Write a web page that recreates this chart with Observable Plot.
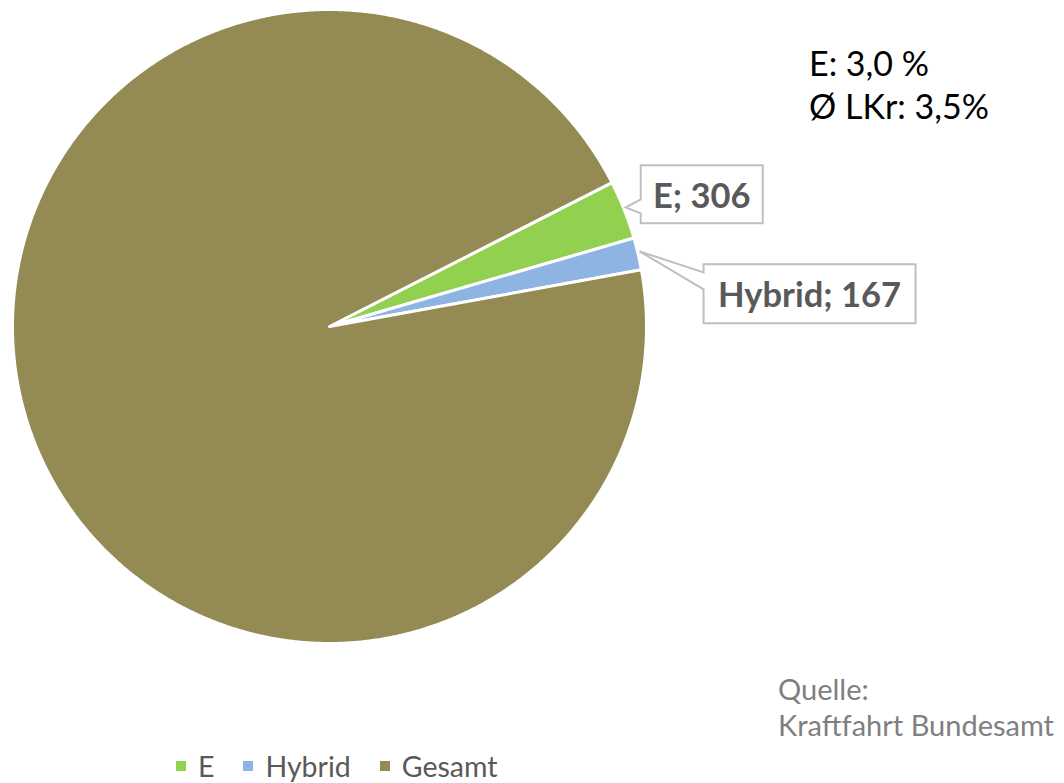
<!DOCTYPE html>
<html>
<head>
<meta charset="utf-8">
<script src="https://cdn.jsdelivr.net/npm/d3@7"></script>
<script src="https://cdn.jsdelivr.net/npm/@observablehq/plot@0.6"></script>
<style>
  html, body { margin: 0; padding: 0; background: #ffffff; }
  #wrap { position: relative; width: 1064px; height: 783px; overflow: hidden; font-family: Lato, "Open Sans", sans-serif; }
  #wrap svg { position: absolute; left: 0; top: 0; }
  .note { position: absolute; left: 809px; color: #000; font-size: 34px; line-height: 1; white-space: nowrap; }
  .src { position: absolute; left: 778px; color: #7f7f7f; font-size: 29px; line-height: 1; white-space: nowrap; }
  #legend { position: absolute; top: 752px; left: 176px; display: flex; align-items: center; font-size: 28.5px; color: #595959; line-height: 1; white-space: nowrap; }
  #legend .item { display: flex; align-items: center; margin-right: 29px; }
  #legend .sw { width: 10px; height: 10px; margin-right: 12px; }
</style>
</head>
<body>
<div id="wrap"></div>
<script>
// ---- data ----
const categories = ["E", "Hybrid", "Gesamt"];
const values = [306, 167, 9727];
const colors = ["#92D050", "#8DB4E2", "#948A54"];
const labelTexts = ["E; 306", "Hybrid; 167"];
const noteLines = ["E: 3,0 %", "Ø LKr: 3,5%"];
const sourceLines = ["Quelle:", "Kraftfahrt Bundesamt"];
const firstSliceAngleDeg = 63;

// ---- pie geometry (unit circle, y up) ----
const rows = categories.map((name, i) => ({name, value: values[i]}));
const a0 = firstSliceAngleDeg * Math.PI / 180;
const arcs = d3.pie().sort(null).value(d => d.value).startAngle(a0).endAngle(a0 + 2 * Math.PI)(rows);
const pts = [];
arcs.forEach(a => {
  const name = a.data.name;
  pts.push({name, x: 0, y: 0});
  const n = Math.max(4, Math.ceil((a.endAngle - a.startAngle) / 0.005));
  for (let k = 0; k <= n; k++) {
    const t = a.startAngle + (a.endAngle - a.startAngle) * k / n;
    pts.push({name, x: Math.sin(t), y: Math.cos(t)});
  }
});

// callout layout (pixel offsets relative to the slice tip)
const calloutStyle = [
  {tipR: 1.0, boxDx: 15, boxDy: -42, w: 122, h: 58, baseTop: -8, baseBot: 6},
  {tipR: 1.0, boxDx: 64, boxDy: 13, w: 212, h: 59, baseTop: 21, baseBot: 38}
];

function callouts(index, scales) {
  const g = d3.create("svg:g");
  labelTexts.forEach((txt, i) => {
    const a = arcs[i];
    const mid = (a.startAngle + a.endAngle) / 2;
    const s = calloutStyle[i];
    const tx = scales.x(s.tipR * Math.sin(mid)) + 2;
    const ty = scales.y(s.tipR * Math.cos(mid)) - 2;
    const bx = tx + s.boxDx, by = ty + s.boxDy;
    const path = [
      [bx, by], [bx + s.w, by], [bx + s.w, by + s.h], [bx, by + s.h],
      [bx, ty + s.baseBot], [tx, ty], [bx, ty + s.baseTop]
    ];
    g.append("path")
      .attr("d", "M" + path.map(p => p.join(",")).join("L") + "Z")
      .attr("fill", "#ffffff")
      .attr("stroke", "#bfbfbf")
      .attr("stroke-width", 2)
      .attr("stroke-linejoin", "miter");
    g.append("text")
      .attr("x", bx + s.w / 2)
      .attr("y", by + s.h / 2)
      .attr("text-anchor", "middle")
      .attr("dominant-baseline", "central")
      .attr("font-family", "Lato, 'Open Sans', sans-serif")
      .attr("font-weight", "bold")
      .attr("font-size", 34.5)
      .attr("fill", "#595959")
      .text(txt);
  });
  return g.node();
}

const chart = Plot.plot({
  width: 1064,
  height: 745,
  margin: 0,
  x: {domain: [-1, 1], range: [12, 646], axis: null},
  y: {domain: [-1, 1], range: [643, 9], axis: null},
  color: {domain: categories, range: colors},
  style: {background: "transparent", overflow: "visible"},
  marks: [
    Plot.line(pts, {x: "x", y: "y", z: "name", fill: "name", stroke: "#ffffff", strokeWidth: 3, curve: "linear-closed", strokeLinejoin: "round"}),
    callouts
  ]
});

const wrap = document.getElementById("wrap");
wrap.appendChild(chart);

noteLines.forEach((t, i) => {
  const d = document.createElement("div");
  d.className = "note";
  d.style.top = (46 + i * 43) + "px";
  d.textContent = t;
  wrap.appendChild(d);
});
sourceLines.forEach((t, i) => {
  const d = document.createElement("div");
  d.className = "src";
  d.style.top = (674 + i * 36) + "px";
  d.textContent = t;
  wrap.appendChild(d);
});
const leg = document.createElement("div");
leg.id = "legend";
categories.forEach((c, i) => {
  const it = document.createElement("div");
  it.className = "item";
  const sw = document.createElement("div");
  sw.className = "sw";
  sw.style.background = colors[i];
  const tx = document.createElement("span");
  tx.textContent = c;
  it.appendChild(sw);
  it.appendChild(tx);
  leg.appendChild(it);
});
wrap.appendChild(leg);
</script>
</body>
</html>
